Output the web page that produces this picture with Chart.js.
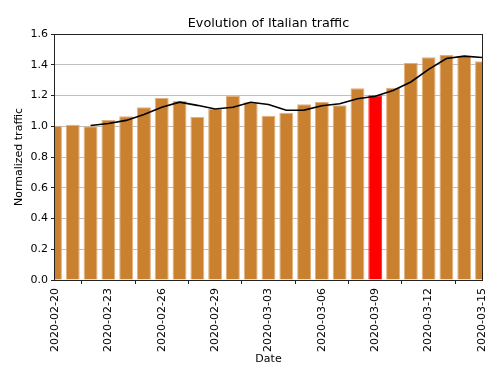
<!DOCTYPE html>
<html>
<head>
<meta charset="utf-8">
<script src="https://cdn.jsdelivr.net/npm/chart.js@4.4.1/dist/chart.umd.min.js"></script>
<style>
  html, body { margin: 0; padding: 0; background: #ffffff; }
  #wrap { width: 500px; height: 376px; }
</style>
</head>
<body>
<div id="wrap"><canvas id="trafficChart" width="500" height="376"></canvas></div>
<script>
// DATA
const dates = [
    "2020-02-20", "2020-02-21", "2020-02-22", "2020-02-23", "2020-02-24",
    "2020-02-25", "2020-02-26", "2020-02-27", "2020-02-28", "2020-02-29",
    "2020-03-01", "2020-03-02", "2020-03-03", "2020-03-04", "2020-03-05",
    "2020-03-06", "2020-03-07", "2020-03-08", "2020-03-09", "2020-03-10",
    "2020-03-11", "2020-03-12", "2020-03-13", "2020-03-14", "2020-03-15"
];
const traffic = [
    1.004, 1.010, 1.000, 1.041, 1.065, 1.123, 1.184, 1.164, 1.060, 1.112,
    1.199, 1.156, 1.069, 1.088, 1.143, 1.158, 1.136, 1.247, 1.201, 1.251,
    1.411, 1.448, 1.463, 1.457, 1.422
];
// rolling mean line (starts on the 3rd day)
const trend = [
    null, null, 1.005, 1.018, 1.038, 1.076, 1.124, 1.157, 1.136, 1.112,
    1.124, 1.156, 1.141, 1.104, 1.105, 1.133, 1.146, 1.179, 1.195, 1.233,
    1.288, 1.370, 1.441, 1.456, 1.447
];
const yTicks = [0, 0.2, 0.4, 0.6, 0.8, 1.0, 1.2, 1.4, 1.6];
const highlightDate = "2020-03-09";

const font = "'DejaVu Sans', sans-serif";

// frame around the plot area, like matplotlib spines
const framePlugin = {
    id: "frame",
    afterDraw(chart) {
        const a = chart.chartArea;
        const c = chart.ctx;
        c.save();
        c.strokeStyle = "#222222";
        c.lineWidth = 1;
        c.strokeRect(Math.round(a.left) - 0.5, Math.round(a.top) + 0.5,
            Math.round(a.right - a.left) + 1, Math.round(a.bottom - a.top));
        c.restore();
    }
};

function initChart() {
    const ctx = document.getElementById("trafficChart");

    new Chart(ctx, {
        type: "bar",
        data: {
            datasets: [{
                type: "line",
                data: trend.map((v, i) => ({ x: i, y: v })),
                borderColor: "#000000",
                borderWidth: 1.6,
                pointRadius: 0,
                tension: 0,
                order: 0
            }, {
                type: "bar",
                data: traffic.map((v, i) => ({ x: i, y: v })),
                backgroundColor: dates.map(d => d === highlightDate ? "#ff0000" : "#c9812f"),
                borderColor: dates.map(d => d === highlightDate ? "#ff1a1a" : "#e2b07c"),
                borderWidth: 1,
                borderSkipped: "bottom",
                categoryPercentage: 1.0,
                barPercentage: 0.78,
                order: 1
            }]
        },
        options: {
            responsive: false,
            animation: false,
            layout: { padding: { left: 0, right: 18, top: 0, bottom: 0 } },
            plugins: {
                legend: { display: false },
                tooltip: { enabled: false },
                title: {
                    display: true,
                    text: "Evolution of Italian traffic",
                    fullSize: false,
                    color: "#000000",
                    font: { family: font, size: 12.8, weight: "normal" },
                    padding: { top: 16, bottom: 2.64 }
                }
            },
            scales: {
                x: {
                    type: "linear",
                    min: 0,
                    max: dates.length - 1,
                    offset: false,
                    afterFit: s => { s.height = 96; },
                    ticks: {
                        stepSize: 3,
                        autoSkip: false,
                        minRotation: 90,
                        maxRotation: 90,
                        padding: 4,
                        color: "#000000",
                        font: { family: font, size: 11 },
                        callback: v => dates[v]
                    },
                    grid: {
                        drawOnChartArea: false,
                        drawTicks: true,
                        tickLength: 4,
                        tickColor: "#222222"
                    },
                    border: { display: false },
                    title: {
                        display: true,
                        text: "Date",
                        color: "#000000",
                        font: { family: font, size: 11 },
                        padding: { top: 0, bottom: 10 }
                    }
                },
                y: {
                    min: 0,
                    max: 1.6,
                    afterFit: s => { s.width = 55; },
                    afterBuildTicks: s => { s.ticks = yTicks.map(v => ({ value: v })); },
                    ticks: {
                        padding: 3,
                        color: "#000000",
                        font: { family: font, size: 11 },
                        callback: v => v.toFixed(1)
                    },
                    grid: {
                        color: "#c0c0c0",
                        lineWidth: 1,
                        tickLength: 4,
                        tickColor: "#222222"
                    },
                    border: { display: false },
                    title: {
                        display: true,
                        text: "Normalized traffic",
                        color: "#000000",
                        font: { family: font, size: 11 },
                        padding: { top: 12.4, bottom: 0 }
                    }
                }
            }
        },
        plugins: [framePlugin]
    });
}

window.onload = () => {
    initChart();
};
</script>
</body>
</html>
